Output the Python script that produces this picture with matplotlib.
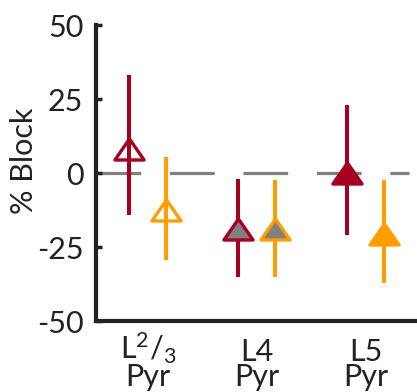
import numpy as np
import matplotlib.pyplot as plt
from matplotlib.path import Path

plt.rcParams['font.family'] = ['Lato', 'DejaVu Sans']
plt.rcParams['mathtext.default'] = 'regular'

# cell types and two conditions per type
cell_types = ['L$^2$/$_3$\nPyr', 'L4\nPyr', 'L5\nPyr']
red_mean = [8, -19, 0]
red_low = [-14, -35, -21]
red_high = [33, -2, 23]
orange_mean = [-12.5, -19, -20.5]
orange_low = [-29.5, -35, -37]
orange_high = [5.5, -2.5, -2.5]
red_fill = ['none', '#808080', '#A50021']
orange_fill = ['none', '#808080', '#FF9E00']

RED = '#A50021'
ORANGE = '#FF9E00'
INK = '#222222'

# wide flat triangle
tri = Path([(-1, -0.72), (1, -0.72), (0, 0.72), (-1, -0.72)],
           [Path.MOVETO, Path.LINETO, Path.LINETO, Path.CLOSEPOLY])

fig = plt.figure(figsize=(4.17, 3.92), dpi=100)
ax = fig.add_axes([0.230, 0.181, 0.77, 0.755])

x = np.arange(1, len(cell_types) + 1)
off = 0.17

ax.hlines(0, 0.523, 3.4, color='#808080', lw=2.3, linestyles=(0, (14, 9)), zorder=1)

for xs, mean, low, high, col, fills in [
        (x - off, red_mean, red_low, red_high, RED, red_fill),
        (x + off, orange_mean, orange_low, orange_high, ORANGE, orange_fill)]:
    for xi, m, lo, hi, fc in zip(xs, mean, low, high, fills):
        ax.vlines(xi, lo, hi, color=col, lw=2.9, zorder=2)
        ax.plot(xi, m, marker=tri, markersize=21, markerfacecolor=fc,
                markeredgecolor=col, markeredgewidth=2.4, zorder=3)

ax.set_xlim(0.523, 3.47)
ax.set_ylim(-50, 50)
ax.set_yticks([-50, -25, 0, 25, 50])
ax.set_yticklabels(['-50', '-25', '0', '25', '50'])
ax.set_xticks(x)
ax.set_xticklabels(cell_types, linespacing=0.9)
# align the "Pyr" lines on a common baseline
for lbl in ax.get_xticklabels():
    lbl.set_verticalalignment('baseline')
ax.tick_params(axis='y', direction='in', length=4, width=2.5, labelsize=22, pad=9,
               color=INK, labelcolor=INK)
ax.tick_params(axis='x', length=0, labelsize=22, pad=47, labelcolor=INK)
ax.set_ylabel('% Block', fontsize=22, color=INK)
ax.yaxis.set_label_coords(-0.18, 0.54)

for s in ['top', 'right']:
    ax.spines[s].set_visible(False)
for s in ['left', 'bottom']:
    ax.spines[s].set_linewidth(3)
    ax.spines[s].set_color(INK)

fig.savefig('out.png', dpi=100)
